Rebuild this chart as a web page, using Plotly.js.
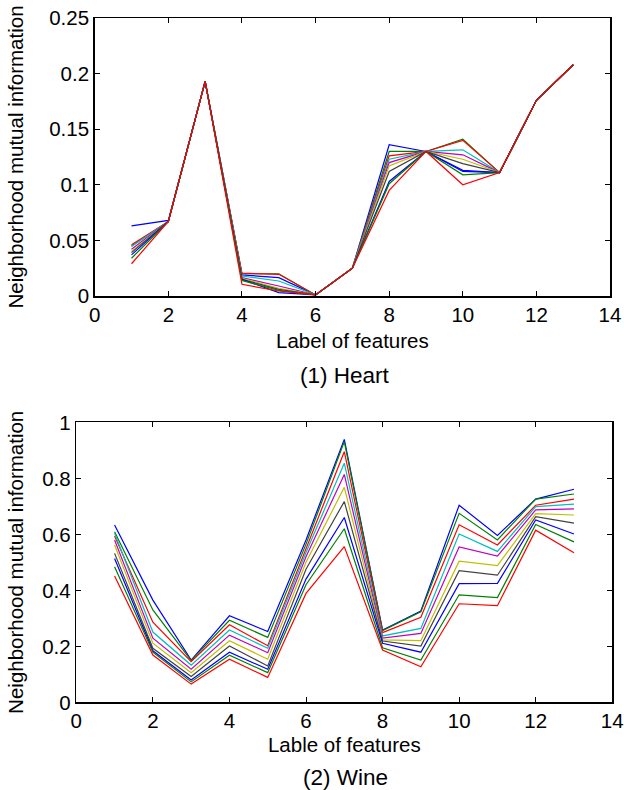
<!DOCTYPE html>
<html>
<head>
<meta charset="utf-8">
<script src="https://cdn.plot.ly/plotly-3.0.1.min.js"></script>
<style>html,body{margin:0;padding:0;background:#fff;}#chart{width:624px;height:790px;}</style>
</head>
<body>
<div id="chart"></div>
<script>
// Feature labels
const features = [1,2,3,4,5,6,7,8,9,10,11,12,13];

// Line colours (MATLAB default order b, g, r, c, m, y, k, b, g, r)
const lineColors = ["#0000FF","#008000","#FF0000","#00BFBF","#BF00BF","#BFBF00","#404040","#0000FF","#008000","#FF0000"];

// (1) Heart: neighborhood mutual information, one array per curve
const heart1  = [0.063,0.068,0.193,0.019, 0.0165,0.001,0.025,0.136,0.130,0.113, 0.111,0.176,0.208];
const heart2  = [0.045,0.067,0.193,0.020, 0.020, 0.001,0.025,0.130,0.130,0.141, 0.111,0.176,0.208];
const heart3  = [0.046,0.067,0.193,0.0205,0.0195,0.001,0.025,0.126,0.130,0.140, 0.111,0.176,0.208];
const heart4  = [0.0445,0.067,0.193,0.018,0.0135,0.001,0.025,0.123,0.130,0.1315,0.111,0.176,0.208];
const heart5  = [0.042,0.067,0.193,0.0165,0.009, 0.001,0.025,0.120,0.130,0.127, 0.111,0.176,0.208];
const heart6  = [0.040,0.067,0.193,0.016, 0.007, 0.001,0.025,0.117,0.130,0.123, 0.111,0.176,0.208];
const heart7  = [0.039,0.067,0.193,0.015, 0.006, 0.001,0.025,0.112,0.130,0.119, 0.111,0.176,0.208];
const heart8  = [0.037,0.067,0.193,0.015, 0.003, 0.001,0.025,0.103,0.130,0.112, 0.111,0.176,0.208];
const heart9  = [0.034,0.067,0.193,0.014, 0.005, 0.001,0.025,0.101,0.130,0.109, 0.111,0.176,0.208];
const heart10 = [0.029,0.067,0.193,0.0105,0.0045,0.001,0.025,0.095,0.130,0.100, 0.111,0.176,0.208];

// (2) Wine
const wine1  = [0.633,0.365,0.151,0.309,0.253,0.580,0.939,0.258,0.326,0.704,0.596,0.726,0.761];
const wine2  = [0.609,0.330,0.149,0.293,0.232,0.565,0.931,0.256,0.323,0.675,0.580,0.726,0.744];
const wine3  = [0.594,0.286,0.145,0.277,0.202,0.550,0.895,0.249,0.304,0.634,0.562,0.704,0.726];
const wine4  = [0.604,0.251,0.133,0.258,0.193,0.535,0.854,0.237,0.264,0.601,0.539,0.699,0.708];
const wine5  = [0.580,0.229,0.118,0.240,0.177,0.520,0.814,0.229,0.246,0.555,0.522,0.687,0.691];
const wine6  = [0.562,0.211,0.106,0.220,0.154,0.500,0.768,0.223,0.220,0.504,0.488,0.674,0.669];
const wine7  = [0.532,0.193,0.092,0.201,0.130,0.475,0.717,0.219,0.201,0.470,0.454,0.663,0.640];
const wine8  = [0.514,0.184,0.080,0.179,0.118,0.440,0.660,0.211,0.179,0.424,0.425,0.651,0.601];
const wine9  = [0.484,0.179,0.073,0.168,0.106,0.420,0.620,0.195,0.151,0.384,0.374,0.635,0.573];
const wine10 = [0.451,0.169,0.065,0.154,0.089,0.389,0.556,0.187,0.127,0.352,0.345,0.615,0.534];

const heartSeries = [heart1,heart2,heart3,heart4,heart5,heart6,heart7,heart8,heart9,heart10];
const wineSeries  = [wine1,wine2,wine3,wine4,wine5,wine6,wine7,wine8,wine9,wine10];

// Text
const xTitleHeart = "Label of features";
const xTitleWine  = "Lable of features";
const yTitle = "Neighborhood mutual information";
const captionHeart = "(1) Heart";
const captionWine  = "(2) Wine";

const FONT = "Liberation Sans, Arial, Helvetica, sans-serif";

const traces = [];
heartSeries.forEach((s, i) => traces.push({
  x: features, y: s, type: "scatter", mode: "lines", xaxis: "x", yaxis: "y",
  line: {color: lineColors[i], width: 1.2}, showlegend: false, hoverinfo: "skip"
}));
wineSeries.forEach((s, i) => traces.push({
  x: features, y: s, type: "scatter", mode: "lines", xaxis: "x2", yaxis: "y2",
  line: {color: lineColors[i], width: 1.2}, showlegend: false, hoverinfo: "skip"
}));

const axisCommon = {
  showline: true, linecolor: "#000", linewidth: 1.5, mirror: "ticks",
  ticks: "inside", ticklen: 5, tickwidth: 1, tickcolor: "#000",
  showgrid: false, zeroline: false,
  tickfont: {family: FONT, size: 20.5, color: "#000"},
  ticklabeloverflow: "allow",
  automargin: false
};

const layout = {
  width: 624, height: 790,
  margin: {l: 0, r: 0, t: 0, b: 0},
  paper_bgcolor: "#fff", plot_bgcolor: "#fff",
  font: {family: FONT, color: "#000"},
  showlegend: false,
  xaxis: Object.assign({}, axisCommon, {
    domain: [0.1518, 0.9776], anchor: "y", range: [0, 14], dtick: 2, tick0: 0,
    title: {text: xTitleHeart, font: {family: FONT, size: 20.5}, standoff: 8}
  }),
  yaxis: Object.assign({}, axisCommon, {
    domain: [0.6253, 0.9772], anchor: "x", range: [0, 0.25], dtick: 0.05, tick0: 0,
    title: {text: yTitle, font: {family: FONT, size: 20.5}, standoff: 20}
  }),
  xaxis2: Object.assign({}, axisCommon, {
    domain: [0.1223, 0.9812], anchor: "y2", range: [0, 14], dtick: 2, tick0: 0,
    title: {text: xTitleWine, font: {family: FONT, size: 20.5}, standoff: 6}
  }),
  yaxis2: Object.assign({}, axisCommon, {
    domain: [0.111, 0.4654], anchor: "x2", range: [0, 1], dtick: 0.2, tick0: 0,
    title: {text: yTitle, font: {family: FONT, size: 20.5}, standoff: 13}
  }),
  annotations: [
    {text: captionHeart, xref: "paper", yref: "paper", x: (345/624), y: 1 - 375/790,
     xanchor: "center", yanchor: "middle", showarrow: false, font: {family: FONT, size: 22.5, color: "#000"}},
    {text: captionWine, xref: "paper", yref: "paper", x: (345/624), y: 1 - 777/790,
     xanchor: "center", yanchor: "middle", showarrow: false, font: {family: FONT, size: 22.5, color: "#000"}}
  ]
};

Plotly.newPlot("chart", traces, layout, {staticPlot: true, displayModeBar: false});
</script>
</body>
</html>
